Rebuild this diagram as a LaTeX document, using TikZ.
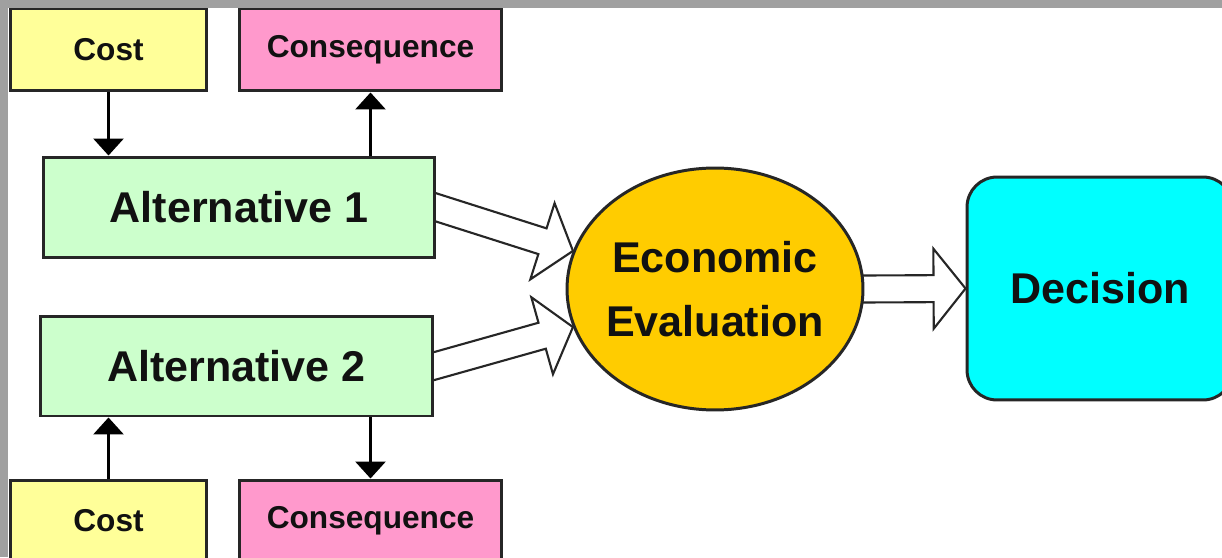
\documentclass[tikz,border=0pt]{standalone}
\usepackage{fontspec}
\setmainfont{Liberation Sans}
\usetikzlibrary{arrows.meta,positioning,calc,shapes.geometric,backgrounds}
\definecolor{ink}{HTML}{111111}
\definecolor{edge}{HTML}{262626}
\definecolor{frame}{HTML}{A0A0A0}
\definecolor{costfill}{HTML}{FFFF99}
\definecolor{consfill}{HTML}{FF99CC}
\definecolor{altfill}{HTML}{CCFFCC}
\definecolor{evalfill}{HTML}{FFCC00}
\definecolor{decfill}{HTML}{00FFFF}
\newcommand{\hollowarrow}[2]{%
  \coordinate (ha-s) at ($(#1)!-0.3cm!(#2)$);
  \coordinate (ha-b) at ($(#2)!0.64cm!(#1)$);
  \draw[blockflow] ($(ha-s)!0.27cm!90:(#2)$) -- ($(ha-b)!0.27cm!90:(#2)$)
    -- ($(ha-b)!0.8cm!90:(#2)$) -- (#2) -- ($(ha-b)!0.8cm!-90:(#2)$)
    -- ($(ha-b)!0.27cm!-90:(#2)$) -- ($(ha-s)!0.27cm!-90:(#2)$) -- cycle;
}
\tikzset{
  tag/.style={draw=edge,fill=#1,line width=1.7pt,minimum width=3.94cm,minimum height=1.64cm,inner sep=0pt,font=\fontsize{18}{20}\selectfont\bfseries,text=ink},
  altbox/.style={draw=edge,fill=altfill,line width=1.7pt,minimum width=7.84cm,minimum height=2.02cm,inner sep=0pt,font=\fontsize{24.5}{28}\selectfont\bfseries,text=ink},
  link/.style={-{Triangle[width=0.6cm,length=0.34cm]},line width=1.7pt,draw=black},
  blockflow/.style={draw=edge,fill=white,line width=1.2pt,line join=miter}
}

\begin{document}
\begin{tikzpicture}[x=0.02cm,y=-0.02cm]
  \useasboundingbox (0,0) rectangle (1222,557);
  \clip (0,0) rectangle (1222,557);
  % alternatives and their cost / consequence
  \node[tag=costfill] (costA) at (108.5,50) {Cost};
  \node[tag=consfill,minimum width=5.26cm] (consA) at (370.5,50) {Consequence};
  \node[altbox] (alt1) at (239,207.5) {Alternative 1};
  \node[altbox,minimum width=7.86cm,minimum height=2.0cm] (alt2) at (236.5,366) {Alternative 2};
  \node[tag=costfill] (costB) at (108.5,521) {Cost};
  \node[tag=consfill,minimum width=5.26cm] (consB) at (370.5,521) {Consequence};
  % evaluation and decision
  \node[ellipse,draw=edge,fill=evalfill,line width=1.7pt,minimum width=5.92cm,minimum height=4.84cm,inner xsep=-0.09cm,inner ysep=0pt,align=center,font=\fontsize{24.5}{36}\selectfont\bfseries,text=ink] (eval) at (715,289) {Economic\\Evaluation};
  \node[draw=edge,fill=decfill,line width=1.7pt,rounded corners=0.6cm,minimum width=5.32cm,minimum height=4.46cm,font=\fontsize{24.5}{28}\selectfont\bfseries,text=ink] (dec) at (1100,288.5) {Decision};

  \draw[link] (costA.south) -- (costA.south |- alt1.north);
  \draw[link] (consA.south |- alt1.north) -- (consA.south);
  \draw[link] (costB.north) -- (costB.north |- alt2.south);
  \draw[link] (consB.north |- alt2.south) -- (consB.north);

  \begin{scope}[on background layer]
    \fill[frame] (0,0) rectangle (1222,557);
    \fill[white] (8,8) rectangle (1222,557);
    \hollowarrow{alt1.east}{eval.165}
    \hollowarrow{alt2.east}{eval.195}
    \hollowarrow{eval.east}{dec.west}
  \end{scope}
\end{tikzpicture}
\end{document}
